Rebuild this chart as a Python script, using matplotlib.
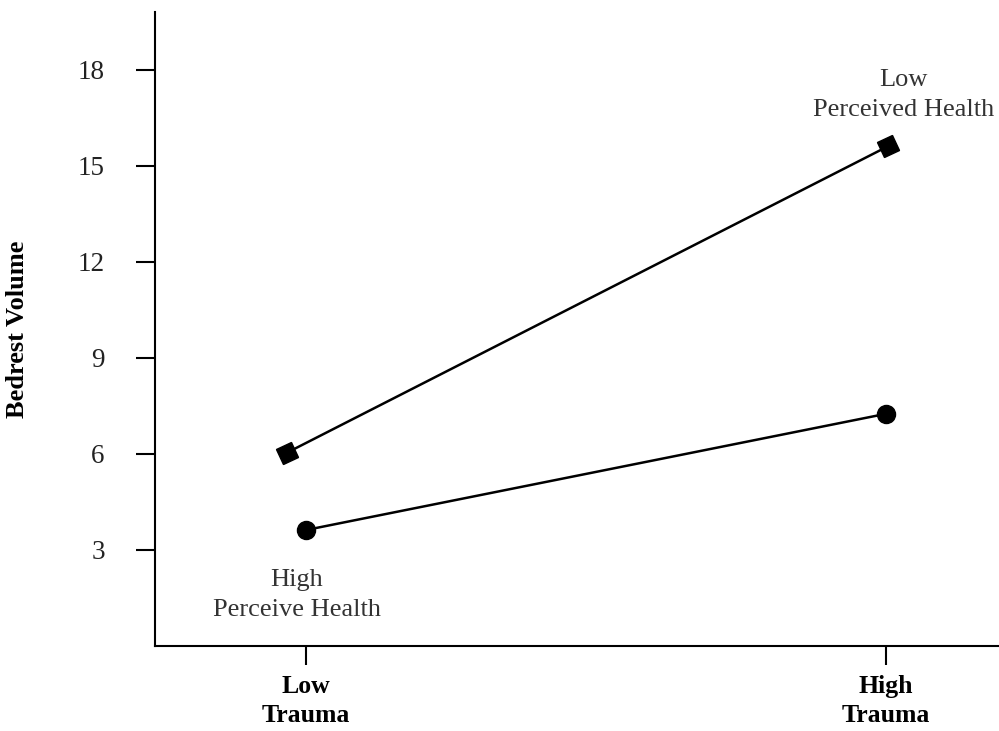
import matplotlib
matplotlib.use('Agg')
import matplotlib.pyplot as plt
from matplotlib.markers import MarkerStyle
from matplotlib.transforms import Affine2D

# values
trauma = ['Low\nTrauma', 'High\nTrauma']
low_health = [6.03, 15.6]    # Low Perceived Health (squares)
high_health = [3.62, 7.25]   # High Perceive Health (circles)
low_health_x = [-0.033, 1.003]
high_health_x = [0.0, 1.0]
yticks = [3, 6, 9, 12, 15, 18]

plt.rcParams['font.family'] = ['Liberation Serif', 'DejaVu Serif']

fig = plt.figure(figsize=(9.99, 7.31), dpi=100)
ax = fig.add_axes([0.155, 0.1163, 0.845, 0.8673])

sq = MarkerStyle('s', transform=Affine2D().rotate_deg(25))
ax.plot(low_health_x, low_health, color='black', lw=1.8, marker=sq, ms=11.5)
ax.plot(high_health_x, high_health, color='black', lw=1.8, marker='o', ms=13)

ax.text(1.031, 17.2, 'Low\nPerceived Health', ha='center', va='center',
        fontsize=19, color='#333333', linespacing=1.45)
ax.text(-0.015, 1.6, 'High\nPerceive Health', ha='center', va='center',
        fontsize=19, color='#333333', linespacing=1.45)

ax.set_xlim(-0.26, 1.195)
ax.set_ylim(0, 19.8)
ax.set_xticks([0, 1])
ax.set_xticklabels(trauma, fontweight='bold', fontsize=18.5, linespacing=1.35)
ax.set_yticks(yticks)
ax.set_yticklabels([str(v) for v in yticks], fontsize=19.5, color='#222222')
ax.tick_params(axis='y', length=14, width=1.5, pad=22)
ax.tick_params(axis='x', length=14, width=1.5, pad=7)
ax.set_ylabel('Bedrest Volume', fontweight='bold', fontsize=19, va='center')
ax.yaxis.set_label_coords(-0.163, 0.5)

for s in ['top', 'right']:
    ax.spines[s].set_visible(False)
for s in ['left', 'bottom']:
    ax.spines[s].set_linewidth(1.5)

plt.savefig('out.png', dpi=100)
